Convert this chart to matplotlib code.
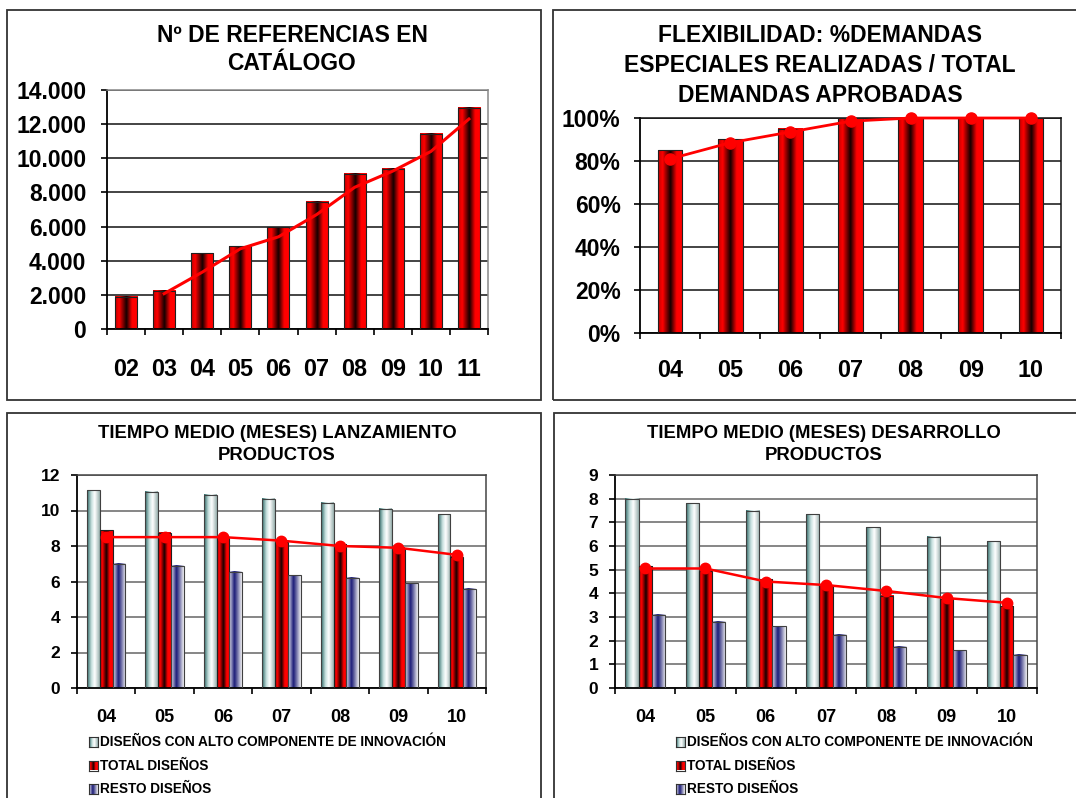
import matplotlib
matplotlib.use("Agg")
import matplotlib.pyplot as plt
import numpy as np
from matplotlib.colors import LinearSegmentedColormap
from matplotlib.patches import Rectangle
from matplotlib.ticker import FuncFormatter, FixedLocator

plt.rcParams['font.family'] = ['Liberation Sans', 'DejaVu Sans']
plt.rcParams['font.weight'] = 'bold'

# ---------------- DATA ----------------
ref_years = ['02', '03', '04', '05', '06', '07', '08', '09', '10', '11']
ref_values = [1900, 2250, 4450, 4850, 5950, 7450, 9100, 9400, 11450, 12950]
ref_trend = [2070, 3330, 4700, 5400, 6700, 8300, 9250, 10400, 12300]  # from '03' to '11'

flex_years = ['04', '05', '06', '07', '08', '09', '10']
flex_values = [85, 90, 95, 100, 100, 100, 100]
flex_line = [81, 88.5, 93.5, 98.5, 100, 100, 100]

years = ['04', '05', '06', '07', '08', '09', '10']
lanz_innov = [11.15, 11.05, 10.9, 10.65, 10.45, 10.1, 9.8]
lanz_total = [8.9, 8.75, 8.5, 8.2, 8.1, 7.9, 7.4]
lanz_resto = [7.0, 6.9, 6.55, 6.35, 6.2, 5.9, 5.6]
lanz_line = [8.5, 8.5, 8.5, 8.3, 8.0, 7.9, 7.5]

des_innov = [8.0, 7.8, 7.5, 7.35, 6.8, 6.4, 6.2]
des_total = [5.15, 4.95, 4.6, 4.35, 3.9, 3.75, 3.45]
des_resto = [3.1, 2.8, 2.6, 2.25, 1.75, 1.6, 1.4]
des_line = [5.05, 5.05, 4.5, 4.35, 4.1, 3.8, 3.6]

legend_labels = ['DISEÑOS CON ALTO COMPONENTE DE INNOVACIÓN', 'TOTAL DISEÑOS', 'RESTO DISEÑOS']

# ---------------- STYLE ----------------
W, H = 1076, 798
fig = plt.figure(figsize=(W / 100, H / 100), dpi=100)

red_cmap = LinearSegmentedColormap.from_list(
    'redg', [(0, '#c00000'), (0.18, '#ff0000'), (0.5, '#120000'), (0.75, '#ff0000'), (1, '#ff0000')])
innov_cmap = LinearSegmentedColormap.from_list(
    'innov', [(0, '#2f6a68'), (0.35, '#c8e1df'), (0.6, '#ffffff'), (1, '#98b0ae')])
resto_cmap = LinearSegmentedColormap.from_list(
    'resto', [(0, '#e6e6f0'), (0.42, '#1c1c78'), (0.6, '#5a5a9a'), (1, '#f4f4f4')])
GRAD = np.linspace(0, 1, 64).reshape(1, -1)


def px_axes(left, right, top, bottom):
    return fig.add_axes([left / W, 1 - bottom / H, (right - left) / W, (bottom - top) / H])


def grad_bars(ax, bars, cmap, edge='#202020'):
    for b in bars:
        x0, w, h = b.get_x(), b.get_width(), b.get_height()
        ax.imshow(GRAD, extent=[x0, x0 + w, 0, h], aspect='auto', cmap=cmap,
                  zorder=2, interpolation='bilinear')
        b.set_facecolor('none')
        b.set_edgecolor(edge)
        b.set_linewidth(0.8)
        b.set_zorder(3)


def style_axes(ax, n, ymax, ystep, grid_color, fmt, xfs, yfs, xpad, ypad, border_color):
    ax.set_xlim(-0.5, n - 0.5)
    ax.set_ylim(0, ymax)
    ax.set_yticks(np.arange(0, ymax + ystep / 2, ystep))
    ax.yaxis.set_major_formatter(FuncFormatter(fmt))
    ax.grid(axis='y', color=grid_color, linewidth=1.1, zorder=0)
    ax.set_axisbelow(True)
    ax.xaxis.set_minor_locator(FixedLocator(np.arange(-0.5, n, 1.0)))
    ax.tick_params(axis='x', which='major', length=0, pad=xpad, labelsize=xfs)
    ax.tick_params(axis='x', which='minor', length=4, width=1.2, direction='out')
    ax.tick_params(axis='y', length=4, width=1.2, direction='out', pad=ypad, labelsize=yfs)
    for lab in ax.get_xticklabels() + ax.get_yticklabels():
        lab.set_fontweight('bold')
    ax.spines['left'].set_color('black')
    ax.spines['bottom'].set_color('black')
    ax.spines['left'].set_linewidth(1.3)
    ax.spines['bottom'].set_linewidth(1.3)
    ax.spines['top'].set_color(border_color)
    ax.spines['right'].set_color(border_color)
    ax.spines['top'].set_linewidth(1.1)
    ax.spines['right'].set_linewidth(1.1)


# panel frames
for (x0, y0, x1, y1) in [(7, 10, 541, 400), (553, 10, 1085, 400), (7, 413, 541, 805), (554, 413, 1085, 805)]:
    fig.patches.append(Rectangle((x0 / W, 1 - y1 / H), (x1 - x0) / W, (y1 - y0) / H,
                                 transform=fig.transFigure, fill=False,
                                 edgecolor='#333333', linewidth=1.3))

# ---------------- PANEL 1 ----------------
ax1 = px_axes(107, 488, 90, 329)
x1 = np.arange(len(ref_years))
bars = ax1.bar(x1, ref_values, width=0.58)
grad_bars(ax1, bars, red_cmap)
ax1.plot(x1[1:], ref_trend, color='#ff0000', linewidth=2.2, zorder=5)
ax1.set_xticks(x1)
ax1.set_xticklabels(ref_years)
style_axes(ax1, len(ref_years), 14000, 2000, '#111111',
           lambda v, p: f"{int(v):,}".replace(',', '.'), 16.8, 16.5, 21, 11, '#888888')
for i, t in enumerate(['Nº DE REFERENCIAS EN', 'CATÁLOGO']):
    fig.text(292 / W, 1 - (35 + 28 * i) / H, t, ha='center', va='center',
             fontsize=16.5, fontweight='bold')

# ---------------- PANEL 2 ----------------
ax2 = px_axes(640, 1061, 118, 333)
x2 = np.arange(len(flex_years))
bars = ax2.bar(x2, flex_values, width=0.41)
grad_bars(ax2, bars, red_cmap)
ax2.plot(x2, flex_line, color='#ff0000', linewidth=2.0, marker='o', markersize=8, zorder=6,
         clip_on=False)
ax2.set_xticks(x2)
ax2.set_xticklabels(flex_years)
style_axes(ax2, len(flex_years), 100, 20, '#111111',
           lambda v, p: f"{int(round(v))}%", 16.8, 16.5, 19, 10, '#111111')
for i, t in enumerate(['FLEXIBILIDAD: %DEMANDAS', 'ESPECIALES REALIZADAS / TOTAL',
                       'DEMANDAS APROBADAS']):
    fig.text(820 / W, 1 - (36 + 30 * i) / H, t, ha='center', va='center',
             fontsize=16.5, fontweight='bold')


# ---------------- PANELS 3 & 4 ----------------
def grouped(ax, innov, total, resto, line, ymax, title, cx, leg_x):
    x = np.arange(len(years))
    w = 0.22
    b1 = ax.bar(x - w, innov, width=w)
    b2 = ax.bar(x, total, width=w)
    b3 = ax.bar(x + w, resto, width=w)
    grad_bars(ax, b1, innov_cmap, edge='#404040')
    grad_bars(ax, b2, red_cmap, edge='#202020')
    grad_bars(ax, b3, resto_cmap, edge='#404040')
    ax.plot(x, line, color='#ff0000', linewidth=1.8, marker='o', markersize=7.5, zorder=6)
    ax.set_xticks(x)
    ax.set_xticklabels(years)
    style_axes(ax, len(years), ymax, 1 if ymax < 10 else 2, '#666666',
               lambda v, p: f"{int(round(v))}", 13, 12.5, 15, 8, '#444444')
    for i, t in enumerate(title):
        fig.text(cx / W, 1 - (433 + 23 * i) / H, t, ha='center', va='center',
                 fontsize=13.3, fontweight='bold')
    # legend
    for i, (lab, cm) in enumerate(zip(legend_labels, [innov_cmap, red_cmap, resto_cmap])):
        yc = 742 + 23.5 * i
        lax = fig.add_axes([leg_x / W, 1 - (yc + 5) / H, 9 / W, 10 / H])
        lax.imshow(GRAD, aspect='auto', cmap=cm, extent=[0, 1, 0, 1])
        lax.set_xticks([])
        lax.set_yticks([])
        for s in lax.spines.values():
            s.set_color('#333333')
            s.set_linewidth(0.8)
        fig.text((leg_x + 11) / W, 1 - yc / H, lab, ha='left', va='center',
                 fontsize=9.8, fontweight='bold')


ax3 = px_axes(77, 486, 475, 688)
grouped(ax3, lanz_innov, lanz_total, lanz_resto, lanz_line, 12,
        ['TIEMPO MEDIO (MESES) LANZAMIENTO', 'PRODUCTOS'], 277, 89)

ax4 = px_axes(615, 1037, 475, 688)
grouped(ax4, des_innov, des_total, des_resto, des_line, 9,
        ['TIEMPO MEDIO (MESES) DESARROLLO', 'PRODUCTOS'], 824, 676)

fig.savefig('out.png', dpi=100)
